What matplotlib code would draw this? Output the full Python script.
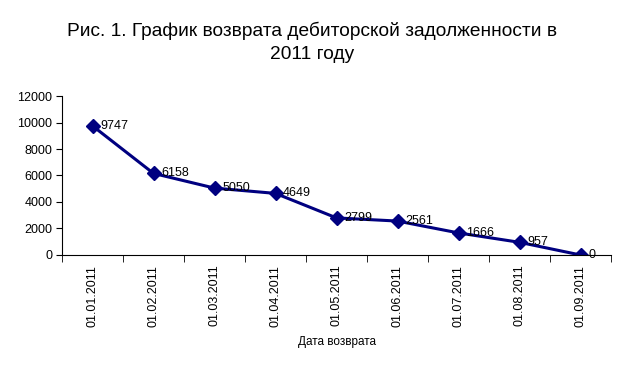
import matplotlib.pyplot as plt
import numpy as np

# data
dates = ["01.01.2011", "01.02.2011", "01.03.2011", "01.04.2011", "01.05.2011",
         "01.06.2011", "01.07.2011", "01.08.2011", "01.09.2011"]
debt = [9747, 6158, 5050, 4649, 2799, 2561, 1666, 957, 0]
yticks = [0, 2000, 4000, 6000, 8000, 10000, 12000]

plt.rcParams['font.family'] = ['Liberation Sans', 'DejaVu Sans']

fig = plt.figure(figsize=(6.25, 3.67), dpi=100)
ax = fig.add_axes([0.0992, 0.3052, 0.8784, 0.4332])

x = np.arange(len(dates))
ax.plot(x, debt, color='#000080', lw=2.2, marker='D', ms=7.5, mfc='#000080', mec='#000080')

for xi, v in zip(x, debt):
    ax.annotate(str(v), (xi, v), xytext=(5.5, 0), textcoords='offset points',
                ha='left', va='center', fontsize=9, color='black')

ax.set_xlim(-0.5, len(dates) - 0.5)
ax.set_ylim(0, 12000)
ax.set_yticks(yticks)
ax.set_yticklabels([str(t) for t in yticks], fontsize=9)

ax.set_xticks(x)
ax.set_xticklabels(dates, rotation=90, fontsize=9)
ax.tick_params(axis='x', which='major', length=0, pad=7)
ax.set_xticks(np.arange(len(dates) + 1) - 0.5, minor=True)
ax.tick_params(axis='x', which='minor', length=5, direction='out')
ax.tick_params(axis='y', length=4, direction='out', pad=3)

for s in ['top', 'right']:
    ax.spines[s].set_visible(False)

ax.set_xlabel("Дата возврата", fontsize=8.5, labelpad=7)

fig.suptitle("Рис. 1. График возврата дебиторской задолженности в\n2011 году",
             fontsize=13.8, y=0.94, va='top', x=0.5, linespacing=1.4)

fig.savefig("out.png", dpi=100)
